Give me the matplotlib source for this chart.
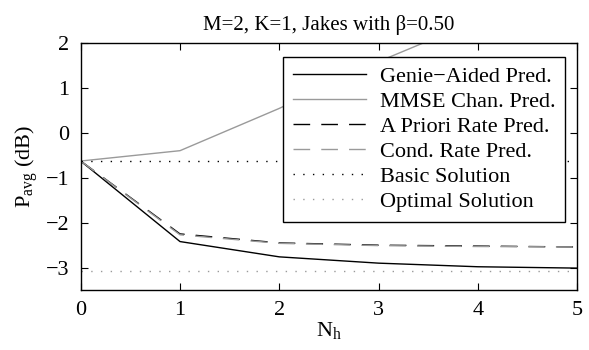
import matplotlib
matplotlib.use("Agg")
import matplotlib.pyplot as plt
import numpy as np

plt.rcParams["font.family"] = ["Liberation Serif", "DejaVu Serif"]
plt.rcParams["mathtext.fontset"] = "custom"
plt.rcParams["mathtext.rm"] = "Liberation Serif"
plt.rcParams["mathtext.it"] = "Liberation Serif:italic"

# data
n_h = [0, 1, 2, 3, 4, 5]
genie = [-0.63, -2.42, -2.76, -2.90, -2.98, -3.01]
mmse = [-0.63, -0.40, 0.54, 1.58, 2.5, 3.3]
apriori = [-0.63, -2.25, -2.45, -2.50, -2.52, -2.54]
cond = [-0.63, -2.27, -2.46, -2.51, -2.53, -2.54]
basic = [-0.63] * 6
optimal = [-3.07] * 6

labels = ["Genie\u2212Aided Pred.", "MMSE Chan. Pred.", "A Priori Rate Pred.",
          "Cond. Rate Pred.", "Basic Solution", "Optimal Solution"]

fig = plt.figure(figsize=(5.89, 3.5), dpi=100)
ax = fig.add_axes([0.137, 0.171, 0.843, 0.707])

gray = "#9a9a9a"
ax.plot(n_h, genie, color="black", lw=1.0, label=labels[0])
ax.plot(n_h, mmse, color=gray, lw=1.0, label=labels[1])
ax.plot(n_h, apriori, color="black", lw=1.0, dashes=(12, 8), label=labels[2])
ax.plot(n_h, cond, color=gray, lw=1.0, dashes=(12, 8), label=labels[3])
ax.plot(n_h, basic, color="black", lw=1.0, dashes=(1, 6), label=labels[4])
ax.plot(n_h, optimal, color=gray, lw=1.0, dashes=(1, 6), label=labels[5])

ax.set_xlim(0, 5)
ax.set_ylim(-3.5, 2)
ax.set_xticks(n_h)
ax.set_yticks([-3, -2, -1, 0, 1, 2])
ax.tick_params(direction="in", top=True, right=True, labelsize=16, length=5, pad=8)
for s in ax.spines.values():
    s.set_linewidth(1.0)

ax.set_title("M=2, K=1, Jakes with \u03b2=0.50", fontsize=15, pad=9)
ax.set_xlabel(r"N$_{\mathrm{h}}$", fontsize=16, labelpad=0)
ax.set_ylabel(r"P$_{\mathrm{avg}}$ (dB)", fontsize=16, labelpad=4)

leg = ax.legend(loc="upper right", bbox_to_anchor=(0.9758, 0.9434), borderaxespad=0,
                fontsize=16, frameon=True, fancybox=False, edgecolor="black",
                handlelength=3.3, handletextpad=0.6, labelspacing=0.2,
                borderpad=0.45, framealpha=1)
leg.get_frame().set_linewidth(1.0)

plt.savefig("out.png", dpi=100)
